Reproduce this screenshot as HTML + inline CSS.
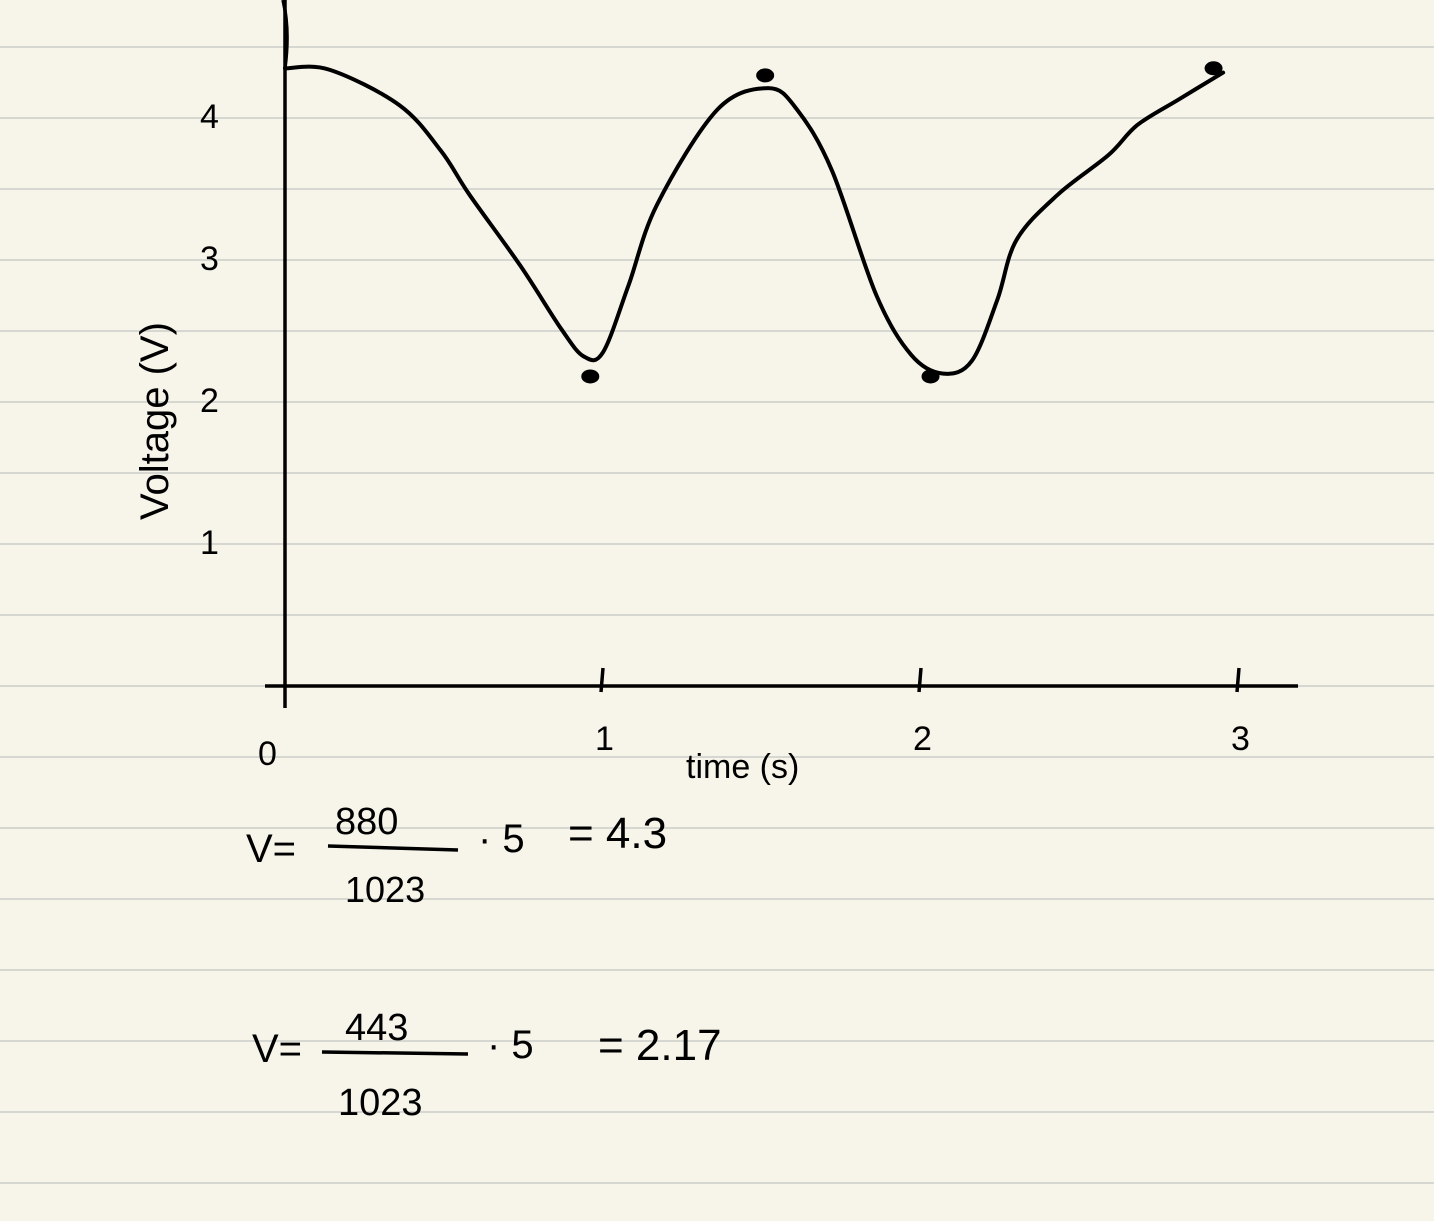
<!DOCTYPE html>
<html><head><meta charset="utf-8"><style>
html,body{margin:0;padding:0;background:#f7f5ea;}
svg{display:block;}
text{font-family:"Liberation Sans",sans-serif;fill:#000;}
</style></head><body>
<svg id="chart" width="1434" height="1221" viewBox="0 0 1434 1221">
<rect width="1434" height="1221" fill="#f7f5ea"/>
<g id="rules"></g>
<line x1="285" y1="0" x2="285" y2="708" stroke="#000" stroke-width="3.5"/>
<path d="M283 0 Q290 30 285 68" fill="none" stroke="#000" stroke-width="3.5"/>
<line x1="265" y1="686" x2="1298" y2="686" stroke="#000" stroke-width="3.5"/>
<g id="ticks"></g>
<g id="labels"></g>
<text x="0" y="0" font-size="40" transform="translate(168,520) rotate(-90)">Voltage (V)</text>
<text x="686" y="778" font-size="34">time (s)</text>
<path id="curve" fill="none" stroke="#000" stroke-width="4" stroke-linejoin="round" stroke-linecap="round"/>
<g id="dots"></g>
<g>
<text x="246" y="862" font-size="40">V=</text>
<text x="335" y="834" font-size="38">880</text>
<line x1="328" y1="846" x2="458" y2="850" stroke="#000" stroke-width="3.5"/>
<text x="345" y="902" font-size="36">1023</text>
<text x="478" y="852" font-size="40">· 5</text>
<text x="568" y="848" font-size="44">= 4.3</text>
</g>
<g>
<text x="252" y="1062" font-size="40">V=</text>
<text x="345" y="1040" font-size="38">443</text>
<line x1="322" y1="1052" x2="468" y2="1054" stroke="#000" stroke-width="3.5"/>
<text x="338" y="1115" font-size="38">1023</text>
<text x="487" y="1058" font-size="40">· 5</text>
<text x="598" y="1060" font-size="44">= 2.17</text>
</g>
</svg>
<script>
const times=[0,0.14,0.36,0.49,0.58,0.74,0.87,0.94,1.0,1.08,1.17,1.36,1.52,1.61,1.72,1.86,1.97,2.07,2.16,2.24,2.30,2.43,2.59,2.68,2.81,2.95];
const volts=[4.35,4.34,4.09,3.77,3.46,2.96,2.51,2.32,2.35,2.82,3.39,4.06,4.21,4.06,3.63,2.75,2.33,2.20,2.29,2.72,3.14,3.46,3.74,3.95,4.13,4.32];
const dotTimes=[0.96,1.51,2.03,2.92];
const dotVolts=[2.18,4.30,2.18,4.35];
const xTicks=[1,2,3];
const xTickLabels=["1","2","3"];
const yTicks=[1,2,3,4];
const yTickLabels=["1","2","3","4"];
const NS="http://www.w3.org/2000/svg";
const xS=t=>285+t*318;
const yS=v=>686-v*142;
function mk(tag,attrs,parent){const e=document.createElementNS(NS,tag);for(const k in attrs)e.setAttribute(k,attrs[k]);parent.appendChild(e);return e;}
const rules=document.getElementById('rules');
for(let i=0;i<17;i++){
  const l=mk('line',{x1:0,x2:1434,y1:47+i*71,y2:47+i*71,stroke:'#d7d7d2','stroke-width':2},rules);
  
  
}
const ticks=document.getElementById('ticks'),labels=document.getElementById('labels');
xTicks.forEach((t,i)=>{
  const x=xS(t);
  const tk=mk('line',{x1:x,x2:x-2,y1:668,y2:692,stroke:'#000','stroke-width':3.5},ticks);
  
  
  const tx=mk('text',{x:x-8,y:750,'font-size':34},labels);tx.textContent=xTickLabels[i];
  
  
});
const z=mk('text',{x:258,y:765,'font-size':34},labels);z.textContent="0";


yTicks.forEach((v,i)=>{
  const tx=mk('text',{x:200,y:yS(v)+10,'font-size':34},labels);tx.textContent=yTickLabels[i];
  
  
});
// smooth curve (Catmull-Rom)
const P=times.map((t,i)=>[xS(t),yS(volts[i])]);
let d=`M${P[0][0]} ${P[0][1]}`;
for(let i=0;i<P.length-1;i++){
  const p0=P[Math.max(0,i-1)],p1=P[i],p2=P[i+1],p3=P[Math.min(P.length-1,i+2)];
  d+=` C${p1[0]+(p2[0]-p0[0])/6} ${p1[1]+(p2[1]-p0[1])/6} ${p2[0]-(p3[0]-p1[0])/6} ${p2[1]-(p3[1]-p1[1])/6} ${p2[0]} ${p2[1]}`;
}
document.getElementById('curve').setAttribute('d',d);
const dots=document.getElementById('dots');
dotTimes.forEach((t,i)=>{
  const c=mk('ellipse',{cx:xS(t),cy:yS(dotVolts[i]),rx:9,ry:7,fill:'#000'},dots);
  
  
});
</script>
</body></html>
